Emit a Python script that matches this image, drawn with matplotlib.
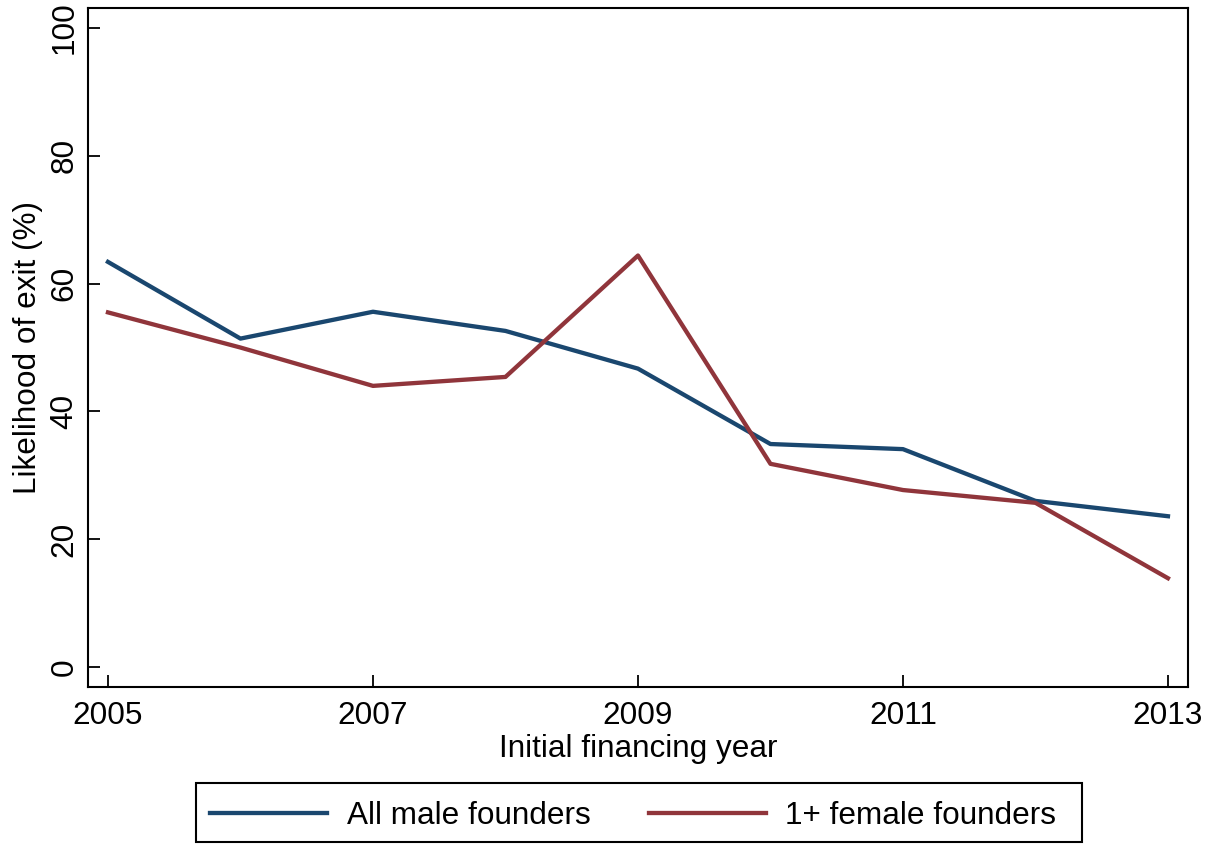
import matplotlib
matplotlib.use("Agg")
import matplotlib.pyplot as plt
from matplotlib.patches import Rectangle

years = [2005, 2006, 2007, 2008, 2009, 2010, 2011, 2012, 2013]
all_male = [63.4, 51.4, 55.6, 52.6, 46.7, 34.9, 34.1, 26.0, 23.6]
female_1plus = [55.5, 50.0, 44.0, 45.4, 64.4, 31.8, 27.7, 25.7, 13.9]
x_ticks = [2005, 2007, 2009, 2011, 2013]
y_ticks = [0, 20, 40, 60, 80, 100]

plt.rcParams['font.family'] = ['Liberation Sans', 'DejaVu Sans']
FS = 22.7
W, H = 1209, 846

fig = plt.figure(figsize=(W / 100, H / 100), dpi=100)
ax = fig.add_axes([0.0732, 0.1879, 0.9094, 0.8026])

ax.plot(years, all_male, color='#1a476f', lw=3.1, label='All male founders')
ax.plot(years, female_1plus, color='#90353b', lw=3.1, label='1+ female founders')

ax.set_xlim(2004.853, 2013.151)
ax.set_ylim(-3.13, 103.13)
ax.set_xticks(x_ticks)
ax.set_yticks(y_ticks)
ax.set_yticklabels([str(v) for v in y_ticks], rotation=90, va='center')
ax.tick_params(axis='both', direction='in', length=8.5, width=1.3,
               labelsize=FS, colors='black')
ax.tick_params(axis='y', pad=6.5)
ax.tick_params(axis='x', pad=10)
for s in ax.spines.values():
    s.set_linewidth(1.5)

ax.set_xlabel('Initial financing year', fontsize=FS, labelpad=2.5)
ax.set_ylabel('Likelihood of exit (%)', fontsize=FS, labelpad=5)

# legend entries laid out in two columns, with a separate outer frame
leg = fig.legend(loc='center left', bbox_to_anchor=(210 / W, 0.0355), ncol=2,
                 fontsize=FS, frameon=False, borderpad=0, borderaxespad=0,
                 handlelength=3.71, handletextpad=0.63, columnspacing=1.84)
fig.patches.append(Rectangle((196 / W, 1 - 842 / H), 886 / W, 59 / H,
                             transform=fig.transFigure, fill=False,
                             edgecolor='black', lw=1.5))

fig.savefig('out.png', dpi=100, facecolor='white')
